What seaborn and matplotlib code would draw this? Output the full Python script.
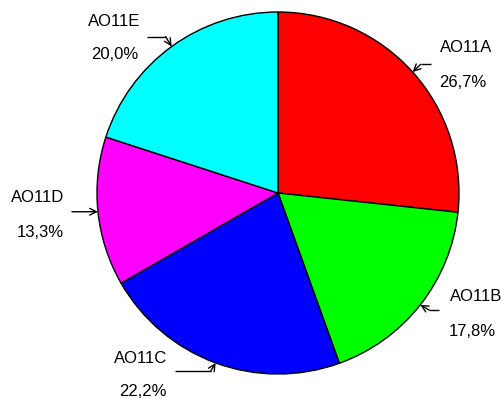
import numpy as np
import matplotlib
matplotlib.use("Agg")
import matplotlib.pyplot as plt
import seaborn as sns

labels = ["AO11A", "AO11B", "AO11C", "AO11D", "AO11E"]
values = [26.7, 17.8, 22.2, 13.3, 20.0]
pct_text = ["26,7%", "17,8%", "22,2%", "13,3%", "20,0%"]
colors = ["#FF0000", "#00FF00", "#0000FF", "#FF00FF", "#00FFFF"]

sns.set_theme(style="white")
plt.rcParams["font.family"] = ["Liberation Sans", "DejaVu Sans"]

W, H = 502, 398
fig = plt.figure(figsize=(W / 100, H / 100), dpi=100)
R = 181.0  # pie radius in pixels
cx, cy = 278.0, 193.0  # pie centre in pixels (from top)
ax = fig.add_axes([(cx - R) / W, (H - cy - R) / H, 2 * R / W, 2 * R / H])

wedges, _ = ax.pie(values, colors=colors, startangle=90, counterclock=False,
                   wedgeprops=dict(edgecolor="black", linewidth=1.0))
ax.set_aspect("auto")
ax.set_xlim(-1, 1)
ax.set_ylim(-1, 1)
ax.axis("off")

# layout offsets (pixels, y up) relative to each wedge's edge midpoint
name_off = [(53.8, 20.3), (56.2, 4.1), (-74.6, -0.1), (-60, 9.7), (-57.6, 20.9)]
pct_off = [(49.8, -14.7), (52.2, -30.9), (-72.6, -33.1), (-58, -25), (-56.6, -12.4)]
start_off = [(18, 7.7), (19, -5.3), (-41, -8.3), (-26, 0), (-25, 10)]
knee_off = [(8, 7.7), (9, -5.3), (-5, -8.3), None, (-6, 10)]

for i, w in enumerate(wedges):
    ang = np.deg2rad((w.theta1 + w.theta2) / 2)
    tx, ty = np.cos(ang), np.sin(ang)
    def p(o):
        return tx + o[0] / R, ty + o[1] / R
    nx, ny = p(name_off[i])
    px, py = p(pct_off[i])
    ax.text(nx, ny, labels[i], ha="center", va="baseline", fontsize=12,
            color="black", clip_on=False)
    ax.text(px, py, pct_text[i], ha="center", va="baseline", fontsize=12,
            color="black", clip_on=False)
    s = p(start_off[i])
    k = p(knee_off[i]) if knee_off[i] is not None else s
    if knee_off[i] is not None:
        ax.plot([s[0], k[0]], [s[1], k[1]], color="black", lw=1.0, clip_on=False,
                solid_capstyle="butt")
    ax.annotate("", xy=(tx, ty), xytext=k,
                arrowprops=dict(arrowstyle="->,head_length=0.4,head_width=0.2",
                                color="black", lw=1.0, shrinkA=0, shrinkB=0),
                annotation_clip=False)

fig.savefig("out.png", dpi=100, facecolor="white")
